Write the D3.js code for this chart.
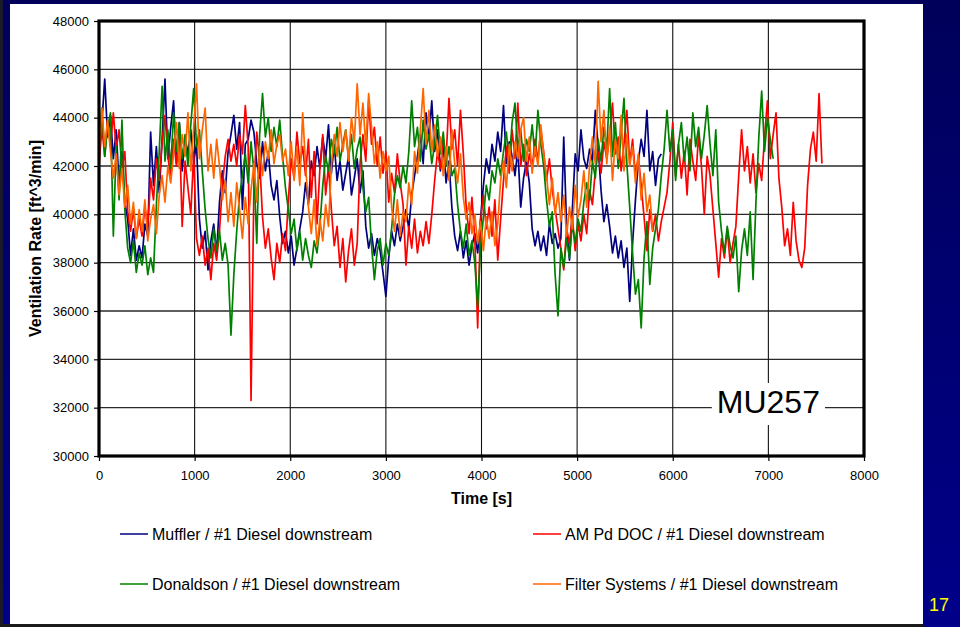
<!DOCTYPE html>
<html>
<head>
<meta charset="utf-8">
<script src="https://cdn.jsdelivr.net/npm/d3@7"></script>
<style>
  html, body { margin: 0; padding: 0; background: #000066; }
  svg { display: block; font-family: Arial, "Liberation Sans", sans-serif; }
</style>
</head>
<body>
<svg id="chart" width="960" height="627"></svg>
<script>
// Logged ventilation rate, one sample every 30 s, in ft^3/min
const timeStep = 30;

const muffler = [
  42500,43800,45600,43200,44100, 42300,43500,41200,42600,40500,
  39800,38300,39400,38100,38700, 38200,39600,39100, 43400,
  41200,42800,40900,43100,45600, 42300,43600,44700,42100,43800,41800,43200,42500,
  43500,42200,42900, 39800,38600,39300,37700,38900,39600,38400,
  40500,41800,40900,42600,43300,44100, 42700,43800,40200,42900,43100,43900,
  43400,42100,41500,43000,41800,42600,41200, 40600,41400,39900,
  38800,39300,38400,39100,37900,38600,39400, 40100,41300,40400,42200,41600,42800,
  41900,43200,42300,43700,41700,42900,41400,
  42200,41000,41700,42400,40800,41500,42300,40900,41800,
  39500,38600,39200,38300,39000,38500,37600,36600, 38200,39300,38700,39600,38900,39500,
  40200,39400,40800,41600,42400, 43300,42100,44200,43100,44700,
  42600,43500,41800,42900,41300,42200,40300,
  39100,38500,39300,38200,38900,37900,38700,39200, 38400,39800,41200,42300,
  41700,42900,42200,43400,42600,44500, 42100,43000,42400,41600,42700,40300,
  41500,42200,41300, 39400,38700,39300,38500,39100,38300,39600,38800,39200,38600,
  39000,43200,39500, 38100,40200, 42500,41800,43500,42300,41900,42700,
  42200,44300,42800, 41000,39700,40400,39500,
  38400,39100,38200,38900,37800,38600,36400, 38800,40600,
  42200,43100,42400,44300, 41800,42600,41200,42300,42500
];

const amPdDoc = [
  42000,43600,42400,43900,42800, 44200,42700,43500,41900,42600,
  40100,39300,40200,39000,39800,39100,40300,39500,
  41500,40600,42300,41400,43000,44100,
  42400,41500,43100,42000,43700,39500,42200,41100,40000,42500,
  39000,38300,39100,37900,38600,37300,38800,38100,39300,
  41200,42400,43100,42200,42900,42000,43300,42500,44500,42800,
  32300,
  41200,43400,42200,
  39900,38600,39400,38200,37300,38800,38000,39200,38500,
  40600,42300,41500,43400,42100,42800,41600,
  43100,40700,42600,39600,41900,43300,40800,42000,
  40200,38700,39500,37800,39000,37200,38500,39400,37900,38800,
  42100,43300,42200,44700,42900,43600,42000,43200,41700,42600,
  40500,41700,40900,42500,41300,40400,
  37900,39500,38600,39800,38400,39300,38700,39700,38800,40000,
  41400,42600,41900,43100,42300,44800,42700,43500,42000,44300,42500,
  40300,39200,40700,39000,
  35300,
  39700,40800,39400,40300,39100,40600,38100,39800,
  41400,42800,41700,43500,42300,44600,
  42000,42900,41600,42500,41900,43100,42200,43500,42600,41400,42300,41000,40200,39400,
  38600,37700,39400,38800,39900,38500,39600,38900,40000,39200,
  41000,40400,41800,42600,41700,43000,
  42300,43300,44600,42500,43200,41800,42900,44300,42100,43100,41600,42400,41200,
  39900,38500,40200,39300,40000,38900,39700,40300,40900,
  42200,43800,41600,42900,
  41500,42600,40800,43100,42200,41400,43300,42000,40000,42400,41600,40200,
  38800,37400,
  39000,38200,39400,38000,38800,39500,
  41600,43500,
  41800,42800,41300,42500,40900,
  42100,41400,43200,44700,42300,
  43300,44200,41500,
  40300,
  38700,39400,38300,40500,38900,38100,37800,38600,
  41200,
  42700,43400,42200,
  45000,
  42100
];

const donaldson = [
  43200,44400,42400,43600,44200, 39100,42800,40600,43900,40200,
  38600,38000,38900,37600,38400,37900,38700,37500,38200,37600,
  40400,42600,45300,42200,
  43500,41900,44200,42600,43800,42300,43300,42000,43700,45200,42800,
  43500,41800,40200,
  39000,38200,39400,38500,39300,38100,38800,37900,
  35000,
  37500,39300,40800,
  41600,42500,41300,43000,
  41800,38800,43300,45000,
  43200,44000,42600,43600,42800,43900,42400,
  41100,40200,39200,39800,
  38500,39300,38100,39000,38300,37800,38900,38400,39500,
  41200,42400,41800,43100,42500,43600,42200,
  42900,43500,42300,43300,41900,42700,43200,
  41100,40100,40700,
  38700,37300,38500,39000,37900,38800,38300,39400,
  40800,41600,41100,42000,
  41300,42600,44700,42800,43600,42200,43900,42700,
  43300,42100,42900,44100,42500,43400,42000,42800,41600,41900,
  40400,39300,38600,39600,38300,38900,
  38000,36200,38600,
  39900,41200,40600,41800,41300,42300,41600,
  42600,43400,42100,43800,44600,42700,43500,42200,43100,42600,43700,42400,44300,42900,42000,
  40600,39500,40100,37500,35800,
  38600,37800,39000,38200,39600,
  38800,39800,39300,40500,
  41300,40600,42200,41500,
  43100,42200,43600,42700,45200,42400,43800,41900,43300,44800,
  42100,40300,38400,
  36700,37300,35300,
  38200,39700,37100,38600,39400,
  40200,41600,42700,
  44300,
  42600,43500,41400,42900,43800,42200,43200,41800,44200,42800,43600,42300,43300,44500,42900,
  41600,43500,40500,
  39300,38400,39500,38700,38200,39100,36800,38500,
  39400,38300,40100,37300,40500,43200,45100,42600,44000,43100,42300
];

const filterSystems = [
  42300,44400,42800,43900,42600,
  41500,42500,40800,41900,40300,41200,
  39600,40500,39000,40200,39300,40600,38900,39800,40400,39200,
  40800,41600,40500,42000,41300,
  42500,43800,41900,43300,42400,44200,41800,43600,45400,
  42300,43500,44400,41800,42900,41500,43100,42000,
  40600,41400,39700,40900,39500,41300,40200,39000,40700,39600,41000,
  42100,40500,42800,41600,43000,
  42300,43500,42100,42900,43300,42200,42700,
  41600,43000,41400,42800,41200,44200,42100,
  40300,39200,40600,38700,39800,38900,40400,39500,
  42000,43300,42400,43800,42600,43500,42200,44000,
  43000,45400,43300,44600,42800,45000,43600,
  42100,43000,41500,42600,41800,42400,
  40300,39300,40600,39100,40100,39700,
  41300,40400,42600,41700,
  43500,45200,42900,44300,42600,43700,42400,
  43200,41600,42800,41400,43500,42100,41300,42500,
  40700,39800,40500,39200,40000,
  38800,39700,38500,39900,39000,40100,38700,39600,
  41400,42200,41100,42900,41800,43000,
  42300,43500,44000,42200,43200,41700,42800,42000,43700,42500,41600,
  40400,41500,40000,40900,
  39700,40800,39100,40300,39400,41200,39900,
  40600,41800,40300,42000,
  43200,42100,45500,43000,44300,
  42100,43600,41400,43100,42300,44100,41800,43300,42000,42800,41300,42500,
  40600,41700,40100,40800,39300
];

const seriesNames = [
  "Muffler / #1 Diesel downstream",
  "AM Pd DOC / #1 Diesel downstream",
  "Donaldson / #1 Diesel downstream",
  "Filter Systems / #1 Diesel downstream"
];
const seriesColors = ["#000080", "#ff0000", "#008000", "#ff6600"];
const seriesValues = [muffler, amPdDoc, donaldson, filterSystems];

const xTicks = [0, 1000, 2000, 3000, 4000, 5000, 6000, 7000, 8000];
const yTicks = [30000, 32000, 34000, 36000, 38000, 40000, 42000, 44000, 46000, 48000];

const xTitle = "Time [s]";
const yTitle = "Ventilation Rate [ft^3/min]";
const siteLabel = "MU257";
const slideNumber = "17";

const svg = d3.select("#chart");
const W = 960, H = 627;

// Slide background with a white content panel
const defs = svg.append("defs");
const bg = defs.append("linearGradient").attr("id", "slideBg")
  .attr("x1", 0).attr("y1", 0).attr("x2", 0).attr("y2", 1);
bg.append("stop").attr("offset", "0%").attr("stop-color", "#00005a");
bg.append("stop").attr("offset", "100%").attr("stop-color", "#00008a");
svg.append("rect").attr("width", W).attr("height", H).attr("fill", "url(#slideBg)");
svg.append("rect").attr("x", 10).attr("y", 4).attr("width", 913).attr("height", 620).attr("fill", "#ffffff");
svg.append("rect").attr("x", 0).attr("y", 0).attr("width", 3).attr("height", H).attr("fill", "#1a1a2a");
svg.append("rect").attr("x", 0).attr("y", 624).attr("width", 923).attr("height", 3).attr("fill", "#1a1a1a");

// Plot area
const plot = { left: 99, right: 864, top: 21, bottom: 456 };
const x = d3.scaleLinear().domain([0, 8000]).range([plot.left, plot.right]);
const y = d3.scaleLinear().domain([30000, 48000]).range([plot.bottom, plot.top]);

// Grid
const grid = svg.append("g");
grid.selectAll("line.h").data(yTicks.slice(1, -1)).join("line")
  .attr("x1", plot.left).attr("x2", plot.right)
  .attr("y1", d => y(d)).attr("y2", d => y(d))
  .attr("stroke", "#2a2a2a").attr("stroke-width", 1.4);
grid.selectAll("line.v").data(xTicks.slice(1, -1)).join("line")
  .attr("x1", d => x(d)).attr("x2", d => x(d))
  .attr("y1", plot.top).attr("y2", plot.bottom)
  .attr("stroke", "#111").attr("stroke-width", 1.1);

// Series
svg.append("clipPath").attr("id", "plotClip").append("rect")
  .attr("x", plot.left).attr("y", plot.top)
  .attr("width", plot.right - plot.left).attr("height", plot.bottom - plot.top);

const line = d3.line()
  .x((d, i) => x(i * timeStep))
  .y(d => y(d));

svg.append("g").attr("clip-path", "url(#plotClip)")
  .selectAll("path").data(seriesValues).join("path")
  .attr("d", d => line(d))
  .attr("fill", "none")
  .attr("stroke", (d, i) => seriesColors[i])
  .attr("stroke-width", 1.7)
  .attr("stroke-linejoin", "round");

// Site label with a white box interrupting the grid
const labelG = svg.append("g");
const labelBox = labelG.append("rect").attr("fill", "#fff");
const labelText = labelG.append("text")
  .attr("x", x(7000)).attr("y", 413)
  .attr("text-anchor", "middle")
  .attr("font-size", 32)
  .attr("fill", "#000")
  .text(siteLabel);
const bb = labelText.node().getBBox();
labelBox.attr("x", bb.x - 5).attr("y", bb.y - 1)
  .attr("width", bb.width + 10).attr("height", bb.height + 6);

// Plot frame
svg.append("rect")
  .attr("x", plot.left).attr("y", plot.top)
  .attr("width", plot.right - plot.left).attr("height", plot.bottom - plot.top)
  .attr("fill", "none").attr("stroke", "#000").attr("stroke-width", 3.2);

// Axes
const yAxis = svg.append("g")
  .attr("transform", `translate(${plot.left - 1},0)`)
  .call(d3.axisLeft(y).tickValues(yTicks).tickSize(4).tickPadding(5).tickFormat(d3.format("d")));
const xAxis = svg.append("g")
  .attr("transform", `translate(0,${plot.bottom + 1})`)
  .call(d3.axisBottom(x).tickValues(xTicks).tickSize(4).tickPadding(10).tickFormat(d3.format("d")));
[yAxis, xAxis].forEach(a => {
  a.select(".domain").remove();
  a.selectAll(".tick line").attr("stroke", "#000").attr("stroke-width", 1.2);
  a.selectAll(".tick text").attr("font-size", 13).attr("fill", "#000")
    .attr("font-family", "Arial, 'Liberation Sans', sans-serif");
});

// Axis titles
svg.append("text")
  .attr("x", (plot.left + plot.right) / 2).attr("y", 504)
  .attr("text-anchor", "middle").attr("font-size", 16).attr("font-weight", "bold")
  .text(xTitle);
svg.append("text")
  .attr("transform", `translate(41,${(plot.top + plot.bottom) / 2}) rotate(-90)`)
  .attr("text-anchor", "middle").attr("font-size", 16).attr("font-weight", "bold")
  .text(yTitle);

// Legend: two columns, two rows
const legendPos = [
  { lx: 120, ly: 534 }, { lx: 533, ly: 534 },
  { lx: 120, ly: 584 }, { lx: 533, ly: 584 }
];
const legend = svg.append("g");
seriesNames.forEach((name, i) => {
  const p = legendPos[i];
  legend.append("line")
    .attr("x1", p.lx).attr("x2", p.lx + 28)
    .attr("y1", p.ly).attr("y2", p.ly)
    .attr("stroke", seriesColors[i]).attr("stroke-width", 1.5);
  legend.append("text")
    .attr("x", p.lx + 32).attr("y", p.ly + 5.5)
    .attr("font-size", 16).attr("fill", "#000")
    .text(name);
});

// Slide number
svg.append("text")
  .attr("x", 929).attr("y", 611)
  .attr("font-size", 18).attr("fill", "#ffff00")
  .text(slideNumber);
</script>
</body>
</html>
